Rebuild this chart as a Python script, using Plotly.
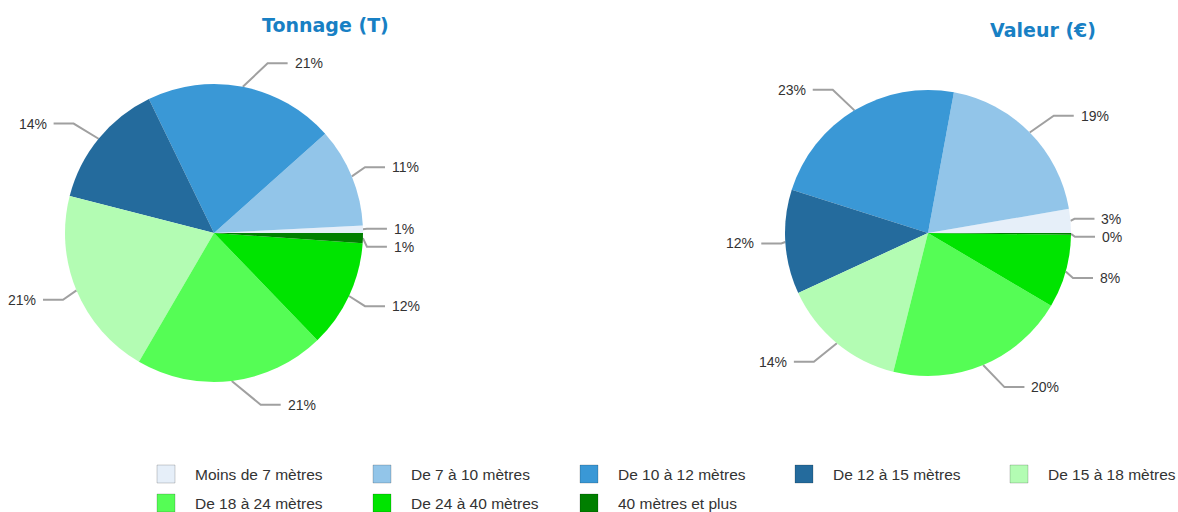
import math
import plotly.graph_objects as go

# ---------------- data ----------------
categories = ["Moins de 7 mètres", "De 7 à 10 mètres", "De 10 à 12 mètres", "De 12 à 15 mètres",
              "De 15 à 18 mètres", "De 18 à 24 mètres", "De 24 à 40 mètres", "40 mètres et plus"]
tonnage = [0.8, 10.8, 20.6, 13.8, 20.6, 20.6, 11.7, 1.1]
valeur = [2.7, 19.4, 23.0, 11.8, 14.2, 20.4, 8.3, 0.2]
titles = ["Tonnage (T)", "Valeur (€)"]

colors = ["#e6eff9", "#92c5e9", "#3a98d6", "#246b9d", "#b3fcb3", "#55fd55", "#00e400", "#007f00"]

# ---------------- layout geometry (pixels) ----------------
W, H = 1178, 512
pies = [
    dict(values=tonnage, cx=214, cy=233, r=149, title=titles[0], tx=325, ty=25),
    dict(values=valeur, cx=928, cy=233, r=143, title=titles[1], tx=1043, ty=30),
]
LINE_COLOR = "#a0a0a0"
LABEL_FONT = dict(family="Liberation Sans, Arial", size=14, color="#333333")

fig = go.Figure()
annotations = []
shapes = []

for p in pies:
    cx, cy, r = p["cx"], p["cy"], p["r"]
    vals = p["values"]
    total = sum(vals)
    # plotly's counterclockwise pies end the first slice at the rotation angle:
    # compensate so the first slice starts at 3 o'clock
    rot = 90 - vals[0] / total * 360.0
    fig.add_trace(go.Pie(
        labels=categories, values=vals, sort=False, direction="counterclockwise", rotation=rot,
        marker=dict(colors=colors, line=dict(width=0)), textinfo="none",
        hoverinfo="label+percent", showlegend=False,
        domain=dict(x=[(cx - r) / W, (cx + r) / W], y=[1 - (cy + r) / H, 1 - (cy - r) / H]),
    ))

    cum = 0.0
    items = []
    for i, v in enumerate(vals):
        frac = v / total
        mid = math.radians((cum + frac / 2) * 360.0)
        cum += frac
        side = 1 if math.cos(mid) >= 0 else -1
        ex, ey = cx + r * math.cos(mid), cy - r * math.sin(mid)
        ly = cy - (r + 24) * math.sin(mid)
        items.append(dict(i=i, side=side, ex=ex, ey=ey, ly=ly, pct=round(frac * 100)))

    # avoid overlaps on each side (push down)
    for side in (1, -1):
        group = sorted([it for it in items if it["side"] == side], key=lambda d: d["ly"])
        for k in range(1, len(group)):
            if group[k]["ly"] < group[k - 1]["ly"] + 18:
                group[k]["ly"] = group[k - 1]["ly"] + 18

    for it in items:
        side = it["side"]
        dy = cy - it["ly"]
        ox_c = math.sqrt(max((r + 29) ** 2 - dy ** 2, 0.0))
        ox = min(ox_c, r + 2)
        ox = max(ox, abs(it["ex"] - cx) + 4)
        elx = cx + side * ox
        endx = elx + side * 20
        fig.add_trace(go.Scatter(
            x=[it["ex"], elx, endx], y=[it["ey"], it["ly"], it["ly"]], mode="lines",
            line=dict(color=LINE_COLOR, width=2), hoverinfo="skip", showlegend=False,
        ))
        annotations.append(dict(
            x=endx + side * 5, y=it["ly"], xref="x", yref="y", text=f"{it['pct']}%",
            showarrow=False, xanchor="left" if side > 0 else "right", yanchor="middle",
            font=LABEL_FONT,
        ))

    annotations.append(dict(
        x=p["tx"], y=p["ty"], xref="x", yref="y", text=f"<b>{p['title']}</b>", showarrow=False,
        xanchor="center", yanchor="middle",
        font=dict(family="DejaVu Sans", size=19, color="#1880c4"),
    ))

# ---------------- legend (manual, two rows of five) ----------------
LEG_X = [157, 373, 580, 795, 1010]
LEG_Y = [474, 503]
SW = 18
for i, (cat, col) in enumerate(zip(categories, colors)):
    row, colidx = divmod(i, 5)
    x0 = LEG_X[colidx]
    yc = LEG_Y[row]
    shapes.append(dict(type="rect", xref="x", yref="y", x0=x0, x1=x0 + SW, y0=yc - SW / 2, y1=yc + SW / 2,
                       fillcolor=col, line=dict(color="rgba(0,0,0,0.18)", width=1), layer="above"))
    annotations.append(dict(x=x0 + 36, y=yc, xref="x", yref="y", text=cat, showarrow=False,
                            xanchor="left", yanchor="middle",
                            font=dict(family="Liberation Sans, Arial", size=15.5, color="#333333")))

fig.update_layout(
    width=W, height=H, margin=dict(l=0, r=0, t=0, b=0),
    paper_bgcolor="white", plot_bgcolor="rgba(0,0,0,0)",
    xaxis=dict(range=[0, W], visible=False, fixedrange=True, domain=[0, 1]),
    yaxis=dict(range=[H, 0], visible=False, fixedrange=True, domain=[0, 1]),
    annotations=annotations, shapes=shapes, showlegend=False,
)

fig.write_html("out.html", config={"displayModeBar": False},
               post_script="document.body.style.margin='0';document.body.style.overflow='hidden';")
